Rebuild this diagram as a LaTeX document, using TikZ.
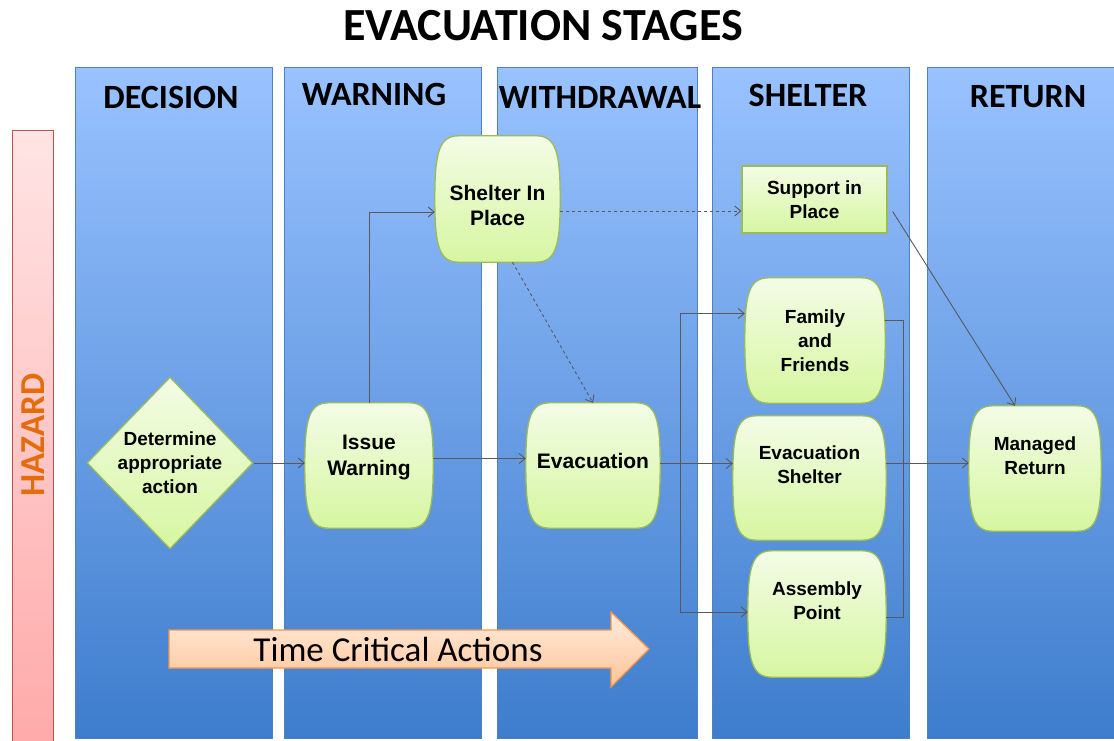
\documentclass[tikz,border=0pt]{standalone}
\usepackage{fontspec}
\setmainfont{Liberation Sans}
\newfontfamily\calibri{Carlito}
\usetikzlibrary{shapes.geometric,calc,arrows.meta}

\definecolor{laneline}{RGB}{79,129,189}
\definecolor{lanetop}{RGB}{153,194,255}
\definecolor{lanebot}{RGB}{62,125,205}
\definecolor{leaftop}{RGB}{243,252,230}
\definecolor{leafbot}{RGB}{214,246,160}
\definecolor{leafline}{RGB}{155,187,89}
\definecolor{hazline}{RGB}{192,80,77}
\definecolor{haztop}{RGB}{255,228,228}
\definecolor{hazbot}{RGB}{255,170,170}
\definecolor{hazorange}{RGB}{228,108,10}
\definecolor{peachtop}{RGB}{255,236,222}
\definecolor{peachbot}{RGB}{255,196,150}
\definecolor{peachline}{RGB}{247,150,70}
\definecolor{wire}{RGB}{89,89,89}

\pgfdeclarelayer{back}
\pgfsetlayers{back,main}

\tikzset{
  lane/.style={draw=laneline, line width=1pt, top color=lanetop, bottom color=lanebot},
  lanetitle/.style={font=\calibri\bfseries\fontsize{34}{40}\selectfont},
  leaf/.style={draw=leafline, line width=1.3pt, top color=leaftop, bottom color=leafbot},
  stage/.style={inner sep=0pt, minimum height=125pt},
  bigtxt/.style={align=center, font=\bfseries\fontsize{21}{25.5}\selectfont},
  smalltxt/.style={align=center, font=\bfseries\fontsize{19}{24}\selectfont},
  decision/.style={diamond, leaf, smalltxt, inner sep=0pt, shape aspect=0.965,
    minimum width=166pt, minimum height=172pt},
  supportbox/.style={rectangle, leaf, smalltxt, minimum width=145pt, minimum height=67pt},
  conn/.style={draw=wire, line width=0.9pt, ->},
  >={Straight Barb[length=6pt,width=10pt]}
}

\begin{document}
\begin{tikzpicture}[x=1pt, y=1pt]
    \useasboundingbox (0,0) rectangle (1114,740);

    \node[font=\calibri\bfseries\fontsize{46}{52}\selectfont] (title) at (543,714) {EVACUATION STAGES};

    \node[decision] (decide) at (170,277) {Determine\\appropriate\\action};
    \node[stage, minimum width=128pt, label={[bigtxt, yshift=8pt]center:Issue\\Warning}] (warn) at (369,274.5) {};
    \node[stage, minimum width=125pt, minimum height=126pt, label={[bigtxt, yshift=-6.5pt]center:Shelter In\\Place}] (sip) at (497.5,541) {};
    \node[stage, minimum width=134pt, label={[bigtxt, yshift=4.5pt]center:Evacuation}] (evac) at (593,274.5) {};
    \node[supportbox] (sup) at (814.5,540.5) {Support in\\Place};
    \node[stage, minimum width=140pt, label={[smalltxt]center:Family\\and\\Friends}] (fam) at (815,399.5) {};
    \node[stage, minimum width=153pt, minimum height=124pt, label={[smalltxt, yshift=13.5pt]center:Evacuation\\Shelter}] (evsh) at (809.5,262) {};
    \node[stage, minimum width=138pt, minimum height=126pt, label={[smalltxt, yshift=13pt]center:Assembly\\Point}] (asm) at (817,126) {};
    \node[stage, minimum width=132pt, label={[smalltxt, yshift=12.5pt]center:Managed\\Return}] (ret) at (1035,271.5) {};

    \begin{pgfonlayer}{back}
        \foreach \xa/\xb in {75/272, 284/481, 497/697, 712/909, 927/1120}
            \draw[lane] (\xa,2) rectangle (\xb,672);
        \draw[draw=hazline, line width=1pt, top color=haztop, bottom color=hazbot] (12,-2) rectangle (53,609);

        % barrel shaped stages
        \foreach \n in {warn,sip,evac,fam,evsh,asm,ret}
            \draw[leaf] ($(\n.north west)+(24pt,0)$) -- ($(\n.north east)+(-24pt,0)$)
                .. controls ($(\n.north east)+(-4pt,0)$) and ($(\n.east)+(0,46pt)$) .. (\n.east)
                .. controls ($(\n.east)+(0,-46pt)$) and ($(\n.south east)+(-4pt,0)$) .. ($(\n.south east)+(-24pt,0)$)
                -- ($(\n.south west)+(24pt,0)$)
                .. controls ($(\n.south west)+(4pt,0)$) and ($(\n.west)+(0,-46pt)$) .. (\n.west)
                .. controls ($(\n.west)+(0,46pt)$) and ($(\n.north west)+(4pt,0)$) .. cycle;
    \end{pgfonlayer}

    \node[lanetitle] (hdec) at (171,643) {DECISION};
    \node[lanetitle] (hwarn) at (374,646) {WARNING};
    \node[lanetitle] (hwith) at (600,643) {WITHDRAWAL};
    \node[lanetitle] (hshel) at (808,645) {SHELTER};
    \node[lanetitle] (hret) at (1028,643) {RETURN};
    \node[rotate=90, text=hazorange, font=\calibri\bfseries\fontsize{35}{40}\selectfont] (hazard) at (33,305) {HAZARD};

    \draw[draw=peachline, line width=1.3pt, top color=peachtop, bottom color=peachbot]
        (169,110) -- (611,110) -- (611,128) -- (649,91) -- (611,53) -- (611,72) -- (169,72) -- cycle;
    \node[font=\calibri\fontsize{35}{40}\selectfont] (tca) at (398,91) {Time Critical Actions};

    \draw[conn] (decide.east) -- (decide.east -| warn.west);
    \draw[conn] (warn.north) |- ([yshift=-13pt]sip.west);
    \draw[conn] ([yshift=7pt]warn.east) -- ([yshift=7pt]evac.west);
    \draw[conn, dashed] ([yshift=-12pt]sip.east) -- ([yshift=-12pt]sip.east -| sup.west);
    \draw[conn, dashed] ([xshift=15pt]sip.south) -- (evac.north);
    \draw[conn] ([yshift=2pt]evac.east) -- ([yshift=2pt]evac.east -| evsh.west);
    \coordinate (split) at ($(evac.east)+(20pt,2pt)$);
    \draw[conn] (split) |- ([yshift=27pt]fam.west);
    \draw[conn] (split) |- ([yshift=2pt]asm.west);
    \draw[draw=wire, line width=0.9pt] ([yshift=20pt]fam.east) -- ++(18pt,0) |- ([yshift=-3pt]asm.east);
    \draw[conn] ([yshift=15pt]evsh.east) -- ([yshift=15pt]evsh.east -| ret.west);
    \draw[conn] ([xshift=5pt,yshift=-12pt]sup.east) -- ([xshift=-20pt]ret.north);
\end{tikzpicture}
\end{document}
